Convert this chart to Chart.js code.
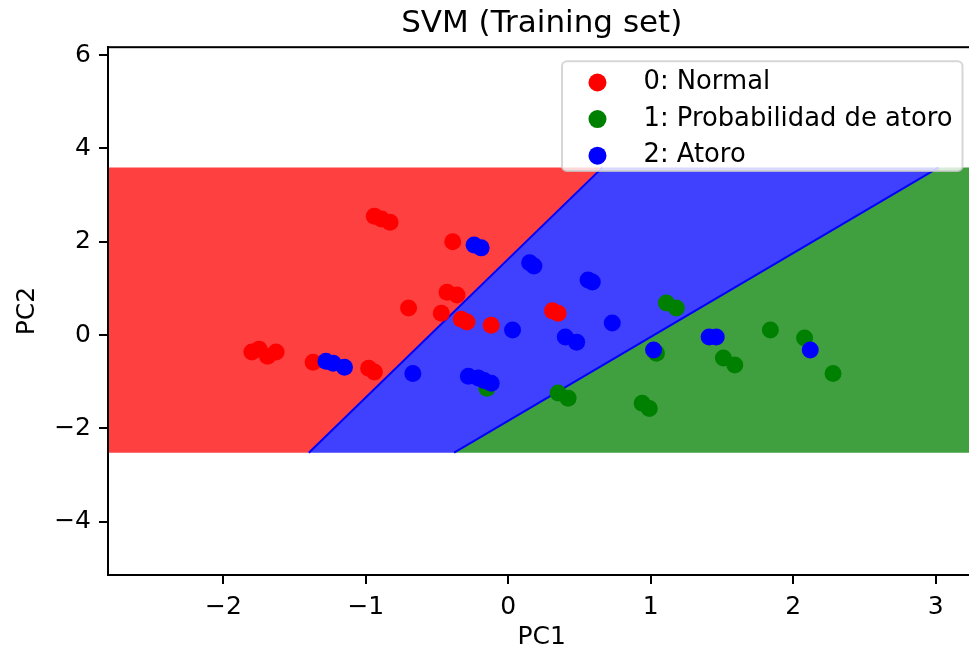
<!DOCTYPE html>
<html>
<head>
<meta charset="utf-8">
<script src="https://cdn.jsdelivr.net/npm/chart.js@4.4.1/dist/chart.umd.min.js"></script>
<style>
	html, body { margin: 0; padding: 0; background: #fff; overflow: hidden; }
	#wrap { width: 984px; height: 652px; }
</style>
</head>
<body>
<div id="wrap"><canvas id="svm" width="984" height="652"></canvas></div>
<script>
const classLabels = ['0: Normal', '1: Probabilidad de atoro', '2: Atoro']

const normalPC1 = [-0.94, -0.89, -0.83, -0.39, -0.43, -0.36, -0.70, -0.47, -0.33, -0.29, -0.12, 0.31, 0.35, -1.80, -1.75, -1.69, -1.63, -1.37, -0.98, -0.94]
const normalPC2 = [2.55, 2.49, 2.42, 2.00, 0.92, 0.86, 0.58, 0.47, 0.34, 0.28, 0.21, 0.52, 0.47, -0.36, -0.30, -0.45, -0.36, -0.58, -0.71, -0.79]

const riskPC1 = [-0.15, 1.11, 1.18, 1.04, 1.84, 2.08, 1.51, 1.59, 2.28, 0.35, 0.42, 0.94, 0.99]
const riskPC2 = [-1.14, 0.69, 0.58, -0.39, 0.11, -0.06, -0.49, -0.64, -0.82, -1.24, -1.35, -1.46, -1.57]

const atoroPC1 = [-0.24, -0.19, 0.15, 0.18, 0.56, 0.59, 0.73, 0.03, 0.40, 0.48, 1.41, 1.46, 1.02, 2.12, -1.28, -1.23, -1.15, -0.67, -0.28, -0.21, -0.17, -0.12]
const atoroPC2 = [1.93, 1.87, 1.55, 1.48, 1.18, 1.14, 0.26, 0.11, -0.04, -0.15, -0.04, -0.04, -0.32, -0.32, -0.56, -0.60, -0.69, -0.82, -0.88, -0.92, -0.97, -1.03]

// decision surface: mesh y range and the two boundary lines (x at bottom, x at top)
const meshPC2 = [-2.52, 3.59]
const normalAtoroEdge = [-1.40, 0.66]
const atoroRiskEdge = [-0.38, 3.02]

const xLimits = [-2.81, 3.28]
const yLimits = [-5.14, 6.17]
const xTicks = [-2, -1, 0, 1, 2, 3]
const yTicks = [-4, -2, 0, 2, 4, 6]

const pointColors = ['rgb(255, 0, 0)', 'rgb(0, 128, 0)', 'rgb(0, 0, 255)']
const regionColors = ['rgb(255, 64, 64)', 'rgb(64, 160, 64)', 'rgb(64, 64, 255)']
const FONT = '"DejaVu Sans", sans-serif'

const toPoints = (xs, ys) => xs.map((x, i) => ({ x, y: ys[i] }))

const [meshBot, meshTop] = meshPC2
const regions = [
	[[xLimits[0], meshBot], [normalAtoroEdge[0], meshBot], [normalAtoroEdge[1], meshTop], [xLimits[0], meshTop]],
	[[atoroRiskEdge[0], meshBot], [xLimits[1], meshBot], [xLimits[1], meshTop], [atoroRiskEdge[1], meshTop]],
	[[normalAtoroEdge[0], meshBot], [atoroRiskEdge[0], meshBot], [atoroRiskEdge[1], meshTop], [normalAtoroEdge[1], meshTop]],
]

const regionSets = regions.map((poly, i) => ({
	data: poly.map(([x, y]) => ({ x, y })),
	showLine: true,
	fill: 'shape',
	backgroundColor: regionColors[i],
	borderWidth: 0,
	pointRadius: 0,
	tension: 0,
	order: 5,
}))

const edgeSets = [normalAtoroEdge, atoroRiskEdge].map((edge) => ({
	data: [{ x: edge[0], y: meshBot }, { x: edge[1], y: meshTop }],
	showLine: true,
	fill: false,
	borderColor: 'rgb(0, 0, 255)',
	borderWidth: 2,
	pointRadius: 0,
	order: 4,
}))

const pointSets = [
	toPoints(normalPC1, normalPC2),
	toPoints(riskPC1, riskPC2),
	toPoints(atoroPC1, atoroPC2),
].map((pts, i) => ({
	label: classLabels[i],
	data: pts,
	backgroundColor: pointColors[i],
	borderWidth: 0,
	pointRadius: 8.5,
	order: 3 - i,
}))

const frame = {
	id: 'frame',
	afterDatasetsDraw(chart) {
		const { ctx, chartArea } = chart
		ctx.save()
		ctx.strokeStyle = '#000'
		ctx.lineWidth = 2
		ctx.strokeRect(chartArea.left, chartArea.top, chartArea.right - chartArea.left, chartArea.bottom - chartArea.top)
		ctx.restore()
	},
}

const insideLegend = {
	id: 'insideLegend',
	afterDraw(chart) {
		const { ctx, chartArea } = chart
		ctx.save()
		ctx.font = '25.8px ' + FONT
		const textW = Math.max(...classLabels.map((l) => ctx.measureText(l).width))
		const pad = 10
		const handle = 51
		const textPad = 20.5
		const rowH = 36.6
		const w = pad + handle + textPad + textW + pad
		const h = rowH * classLabels.length
		const x0 = chartArea.right - 13 - w
		const y0 = chartArea.top + 14
		ctx.beginPath()
		ctx.roundRect(x0, y0, w, h, 5)
		ctx.fillStyle = 'rgba(255, 255, 255, 0.8)'
		ctx.fill()
		ctx.strokeStyle = 'rgba(204, 204, 204, 0.8)'
		ctx.lineWidth = 2
		ctx.stroke()
		classLabels.forEach((label, i) => {
			const cy = y0 + rowH * (i + 0.5) + 3
			ctx.beginPath()
			ctx.arc(x0 + pad + handle / 2, cy, 9, 0, Math.PI * 2)
			ctx.fillStyle = pointColors[i]
			ctx.fill()
			ctx.fillStyle = '#000'
			ctx.textBaseline = 'middle'
			ctx.fillText(label, x0 + pad + handle + textPad, cy)
		})
		ctx.restore()
	},
}

const minus = (v) => (v < 0 ? '\u2212' + Math.abs(v) : String(v))

const axisOpts = (ticks, limits, title) => ({
	type: 'linear',
	min: limits[0],
	max: limits[1],
	afterBuildTicks: (axis) => {
		axis.ticks = ticks.map((value) => ({ value }))
	},
	grid: { display: true, drawOnChartArea: false, drawTicks: true, tickLength: 9, color: '#000', lineWidth: 2 },
	border: { display: true, color: '#000', width: 2 },
	ticks: { font: { family: FONT, size: 25 }, color: '#000', padding: 8, callback: minus, maxRotation: 0 },
	title: { display: true, text: title, font: { family: FONT, size: 25 }, color: '#000' },
})

const xAxis = axisOpts(xTicks, xLimits, 'PC1')
xAxis.title.padding = { top: 0, bottom: 0 }
xAxis.afterFit = (scale) => {
	scale.height = 77
}
const yAxis = axisOpts(yTicks, yLimits, 'PC2')
yAxis.title.padding = { top: 12, bottom: 0 }
yAxis.afterFit = (scale) => {
	scale.width = 108
}

new Chart(document.getElementById('svm'), {
	type: 'scatter',
	data: { datasets: [...pointSets, ...edgeSets, ...regionSets] },
	options: {
		responsive: false,
		animation: false,
		events: [],
		layout: { padding: 0 },
		scales: { x: xAxis, y: yAxis },
		plugins: {
			legend: { display: false },
			tooltip: { enabled: false },
			title: {
				display: true,
				text: 'SVM (Training set)',
				fullSize: false,
				color: '#000',
				font: { family: FONT, size: 31, weight: 'normal' },
				padding: { top: 5, bottom: 5 },
			},
		},
	},
	plugins: [frame, insideLegend],
})
</script>
</body>
</html>
